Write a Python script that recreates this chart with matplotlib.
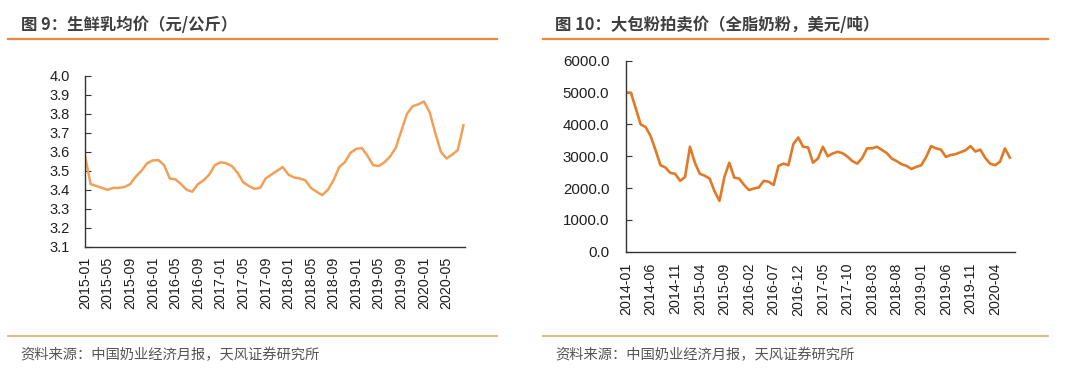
import matplotlib.pyplot as plt
from matplotlib.lines import Line2D
import numpy as np
import pandas as pd

plt.rcParams['font.family'] = ['Liberation Sans', 'Noto Sans CJK SC', 'DejaVu Sans']

# 图9 生鲜乳均价（元/公斤），月度，2015-01 起
milk_start = '2015-01'
milk_price = [3.58, 3.43, 3.42, 3.41, 3.40, 3.41, 3.41, 3.415, 3.43, 3.47,
              3.50, 3.54, 3.555, 3.556, 3.53, 3.46, 3.455, 3.43, 3.40, 3.39,
              3.43, 3.45, 3.48, 3.53, 3.545, 3.54, 3.525, 3.49, 3.44, 3.42,
              3.405, 3.41, 3.46, 3.48, 3.50, 3.52, 3.48, 3.465, 3.46, 3.45,
              3.41, 3.39, 3.372, 3.40, 3.45, 3.52, 3.545, 3.595, 3.615, 3.62,
              3.58, 3.53, 3.525, 3.545, 3.575, 3.62, 3.71, 3.80, 3.84, 3.85,
              3.865, 3.81, 3.70, 3.60, 3.565, 3.585, 3.61, 3.74]
milk_yticks = [3.1, 3.2, 3.3, 3.4, 3.5, 3.6, 3.7, 3.8, 3.9, 4.0]

# 图10 大包粉拍卖价（全脂奶粉，美元/吨），月度，2014-01 起
wmp_start = '2014-01'
wmp_price = [5000, 5000, 4500, 4000, 3920, 3640, 3200, 2720, 2650, 2480,
             2450, 2230, 2350, 3300, 2800, 2450, 2390, 2300, 1900, 1600,
             2350, 2800, 2330, 2300, 2100, 1940, 1990, 2020, 2230, 2200,
             2100, 2700, 2770, 2720, 3380, 3590, 3300, 3280, 2800, 2930,
             3300, 3000, 3090, 3140, 3100, 2990, 2850, 2770, 2950, 3250,
             3250, 3300, 3200, 3100, 2930, 2850, 2750, 2700, 2600, 2670,
             2720, 2980, 3320, 3250, 3210, 2980, 3040, 3070, 3130, 3190,
             3320, 3150, 3210, 2950, 2770, 2720, 2830, 3250, 2960]
wmp_yticks = [0, 1000, 2000, 3000, 4000, 5000, 6000]

title_color = '#3F3F3F'
rule_color = '#EB8A3C'
axis_color = '#333333'

fig = plt.figure(figsize=(10.8, 3.85), dpi=100)


def style_axis(ax, fs, pad, xpad):
    for s in ['top', 'right']:
        ax.spines[s].set_visible(False)
    for s in ['left', 'bottom']:
        ax.spines[s].set_color(axis_color)
        ax.spines[s].set_linewidth(1.0)
    ax.tick_params(axis='y', direction='in', length=4, width=0.8,
                   color=axis_color, labelsize=fs, pad=pad, labelcolor='#1E1E1E')
    ax.tick_params(axis='x', length=0, labelsize=10.3, pad=xpad,
                   labelcolor='#1E1E1E', labelrotation=90)


# 左图
ax1 = fig.add_axes([0.0787, 0.359, 0.352, 0.444])
x1 = np.arange(len(milk_price))
d1 = pd.date_range(milk_start, periods=len(milk_price), freq='MS')
ax1.plot(x1, milk_price, color='#F2A057', lw=1.8)
ax1.set_ylim(3.1, 4.0)
ax1.set_yticks(milk_yticks)
ax1.set_yticklabels([f'{v:.1f}' for v in milk_yticks])
ax1.set_xlim(0, 67.3)
ax1.set_xticks(x1[::4])
ax1.set_xticklabels([d.strftime('%Y-%m') for d in d1[::4]])
style_axis(ax1, 10.5, 11, 7)

# 右图
ax2 = fig.add_axes([0.5796, 0.346, 0.360, 0.496])
x2 = np.arange(len(wmp_price))
d2 = pd.date_range(wmp_start, periods=len(wmp_price), freq='MS')
ax2.plot(x2, wmp_price, color='#E07A26', lw=1.9)
ax2.set_ylim(0, 6000)
ax2.set_yticks(wmp_yticks)
ax2.set_yticklabels([f'{v:.1f}' for v in wmp_yticks])
ax2.set_xlim(0, 79)
ax2.set_xticks(x2[::5])
ax2.set_xticklabels([d.strftime('%Y-%m') for d in d2[::5]])
style_axis(ax2, 10.8, 12, 8)

# 标题、分隔线、资料来源
cjk = ['Noto Sans CJK SC', 'DejaVu Sans']
fig.text(21 / 1080, 1 - 25 / 385, '图 9：生鲜乳均价（元/公斤）', fontsize=11.8,
         fontweight='bold', color=title_color, va='center', family=cjk)
fig.text(555 / 1080, 1 - 25 / 385, '图 10：大包粉拍卖价（全脂奶粉，美元/吨）', fontsize=11.8,
         fontweight='bold', color=title_color, va='center', family=cjk)

for xa, xb in [(8, 497), (543, 1048)]:
    fig.add_artist(Line2D([xa / 1080, xb / 1080], [1 - 39 / 385] * 2,
                          transform=fig.transFigure, color=rule_color, lw=1.6))
    fig.add_artist(Line2D([xa / 1080, xb / 1080], [1 - 335.5 / 385] * 2,
                          transform=fig.transFigure, color='#E3A468', lw=1.2))

src = '资料来源：中国奶业经济月报，天风证券研究所'
fig.text(20 / 1080, 1 - 355 / 385, src, fontsize=10.3, color='#555555',
         va='center', family=cjk)
fig.text(555 / 1080, 1 - 355 / 385, src, fontsize=10.3, color='#555555',
         va='center', family=cjk)

fig.savefig('out.png', dpi=100)
